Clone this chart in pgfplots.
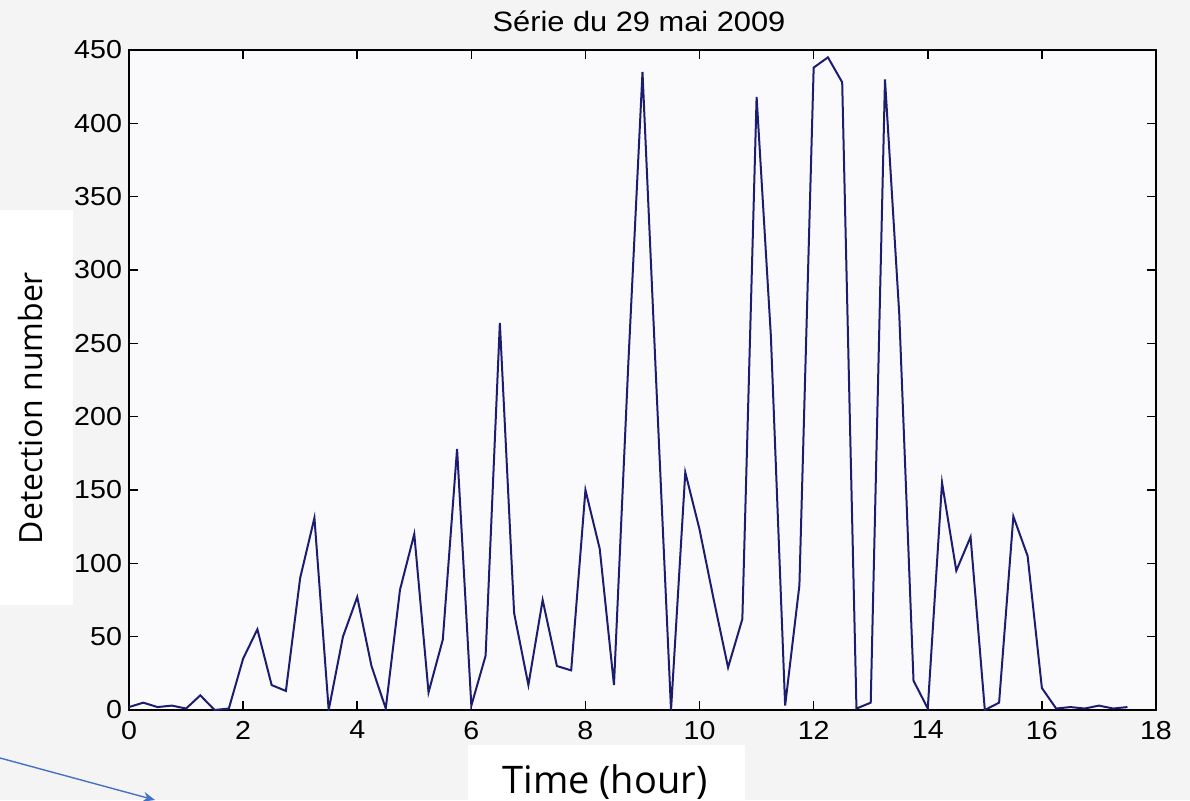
\documentclass[border=0pt]{standalone}
\usepackage{pgfplots}
\pgfplotsset{compat=1.18}
\usetikzlibrary{arrows.meta}
\usepackage{fontspec}
\setmainfont{Liberation Sans}
\newfontfamily\mfont[FakeStretch=1.1]{Liberation Sans}
\newfontfamily\lfont{Open Sans}
\definecolor{canvasbg}{RGB}{244,244,244}
\definecolor{axisbg}{RGB}{250,250,252}
\definecolor{plotblue}{RGB}{28,28,112}
\definecolor{arrowblue}{RGB}{68,114,196}
\begin{document}
\begin{tikzpicture}
\useasboundingbox (0,0) rectangle (595pt,400pt);
\fill[canvasbg] (0,0) rectangle (595pt,400pt);
\begin{axis}[
  at={(64.5pt,45pt)}, anchor=south west, scale only axis,
  width=513.5pt, height=330pt,
  xmin=0, xmax=18, ymin=0, ymax=450,
  xtick={0,2,...,18}, ytick={0,50,...,450},
  tick align=inside, major tick length=4.5pt,
  axis line style={line width=0.9pt, black},
  every tick/.style={black, line width=0.8pt},
  tick label style={font=\mfont\fontsize{13}{13}\selectfont, black},
  xticklabel style={yshift=-2pt},
  /pgf/number format/assume math mode=true,
  axis background/.style={fill=axisbg},
]
\addplot[plotblue, line width=1pt] coordinates {
(0,2)(0.25,5)(0.5,2)(0.75,3)(1,1)(1.25,10)(1.5,0)(1.75,1)(2,35)(2.25,55)(2.5,17)(2.75,13)
(3,90)(3.25,131)(3.5,0)(3.75,50)(4,77)(4.25,30)(4.5,1)(4.75,82)(5,120)(5.25,12)(5.5,48)(5.75,178)
(6,3)(6.25,37)(6.5,264)(6.75,66)(7,17)(7.25,75)(7.5,30)(7.75,27)(8,150)(8.25,110)(8.5,17)(8.75,235)
(9,435)(9.25,215)(9.5,0)(9.75,162)(10,123)(10.25,75)(10.5,29)(10.75,62)(11,418)(11.25,255)(11.5,3)(11.75,85)
(12,438)(12.25,445)(12.5,428)(12.75,1)(13,5)(13.25,430)(13.5,270)(13.75,20)(14,1)(14.25,155)(14.5,95)(14.75,118)
(15,0)(15.25,5)(15.5,132)(15.75,105)(16,15)(16.25,1)(16.5,2)(16.75,1)(17,3)(17.25,1)(17.5,2)
};
\end{axis}
\node[font=\mfont\fontsize{14}{14}\selectfont, anchor=base] at (319.5pt,384pt) {Série du 29 mai 2009};
\fill[white] (0,97.5pt) rectangle (36.5pt,295pt);
\node[rotate=90, anchor=base, font=\lfont\fontsize{16}{16}\selectfont] at (21pt,196pt) {Detection number};
\fill[white] (234pt,0) rectangle (372.5pt,27.5pt);
\node[anchor=base, font=\lfont\fontsize{19}{19}\selectfont] at (302.5pt,3.5pt) {Time (hour)};
\draw[arrowblue, line width=0.7pt, -{Stealth[length=6pt,width=5pt]}] (0,21pt) -- (77.5pt,0pt);
\end{tikzpicture}
\end{document}
